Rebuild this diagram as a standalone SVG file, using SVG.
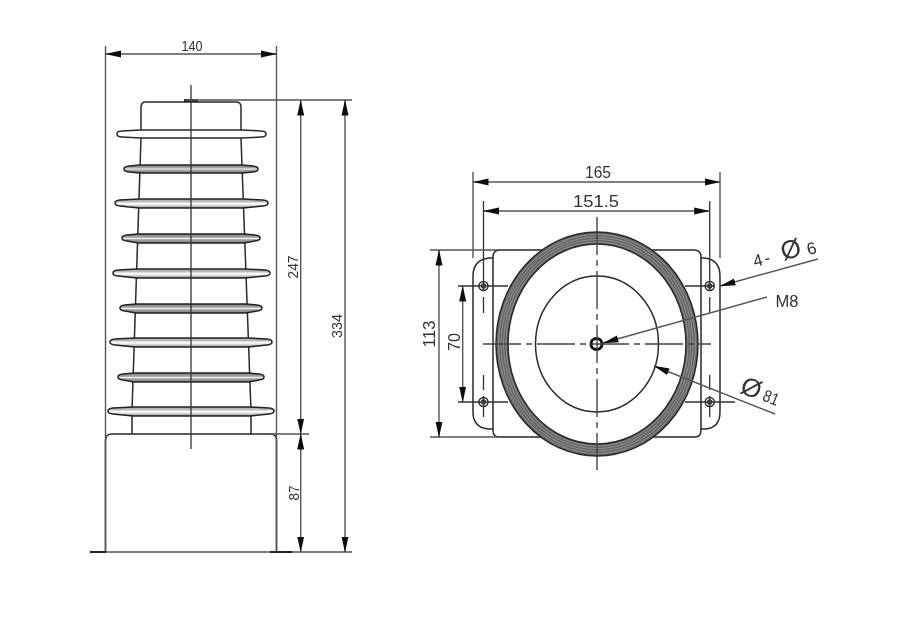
<svg xmlns="http://www.w3.org/2000/svg" width="922" height="630" viewBox="0 0 922 630">
<style>
.o{fill:none;stroke:#2a2a2a;stroke-width:1.5}
.w{fill:#fff;stroke:#2a2a2a;stroke-width:1.5}
.c{fill:none;stroke:#333;stroke-width:1.3}
.cd{fill:none;stroke:#444;stroke-width:1.4;stroke-dasharray:38 5 6 5}
.d{fill:none;stroke:#555;stroke-width:1.4}
.a{marker-start:url(#arr);marker-end:url(#arr)}
.e{marker-end:url(#arr)}
.g1{fill:url(#fa);stroke:#222;stroke-width:1.5}
.g2{fill:url(#fb);stroke:#222;stroke-width:1.5}
.r{fill:none;stroke:#999;stroke-width:.8}
text{font-family:"Liberation Sans",Arial,sans-serif;fill:#333;text-anchor:middle}
.s{font-size:14px}
.b{font-size:17px}
</style>
<defs>
<filter id="soft" filterUnits="userSpaceOnUse" x="0" y="0" width="922" height="630"><feGaussianBlur stdDeviation="0.45"/></filter>
<marker id="arr" markerUnits="userSpaceOnUse" markerWidth="16" markerHeight="8" viewBox="0 0 16 8" refX="15.5" refY="4" orient="auto-start-reverse">
<path d="M0 0.5L16 4L0 7.5z" fill="#111"/>
</marker>
<linearGradient id="fa" x1="0" y1="0" x2="0" y2="1"><stop offset="0" stop-color="#777"/><stop offset=".38" stop-color="#aaa"/><stop offset=".5" stop-color="#f0f0f0"/><stop offset=".62" stop-color="#aaa"/><stop offset="1" stop-color="#777"/></linearGradient>
<linearGradient id="fb" x1="0" y1="0" x2="0" y2="1"><stop offset="0" stop-color="#aaa"/><stop offset=".3" stop-color="#bbb"/><stop offset=".5" stop-color="#fff"/><stop offset=".7" stop-color="#ddd"/><stop offset="1" stop-color="#888"/></linearGradient>
</defs>
<rect width="922" height="630" fill="#fff"/>
<g filter="url(#soft)">
<g id="front-view">
<g id="base"><path class="o" d="M105.500 552V440Q105.500 434 112 434H270Q276.500 434 276.500 440V552"/></g>
<g id="trunk">
<path class="o" d="M141 130V107Q141 102 146 102H236Q241 102 241 107V130"/>
<path class="o" d="M141 138L132 411V434M241 138L251 411V434"/>
</g>
<g id="top-nub"><rect x="184" y="99" width="14" height="3" fill="#222"/></g>
<g id="sheds">
<path class="w" d="M117 134q0-3 5-3L141 130H241L261 131q5 0 5 3t-5 3L241 138H141L122 137q-5 0-5-3z"/>
<path class="g1" d="M124 169q0-2.500 5-3L140 165H242L253 166q5 .5 5 3t-5 3L242 173H140L129 172q-5-.5-5-3z"/>
<path class="g2" d="M115 203q0-2.500 5-3L139 199H243L263 200q5 .5 5 3t-5 3L243 208H139L120 206q-5-.5-5-3z"/>
<path class="g1" d="M122 238q0-2.500 5-3L138 234H244L255 235q5 .5 5 3t-5 3L244 243H138L127 241q-5-.5-5-3z"/>
<path class="g2" d="M113 273q0-2.500 5-3L137 269H245L265 270q5 .5 5 3t-5 3L245 278H137L118 276q-5-.5-5-3z"/>
<path class="g1" d="M120 308q0-2.500 5-3L136 304H246L257 305q5 .5 5 3t-5 3L246 313H136L125 311q-5-.5-5-3z"/>
<path class="g2" d="M110 342q0-2.500 5-3L135 338H248L267 339q5 .5 5 3t-5 3L248 347H135L115 345q-5-.5-5-3z"/>
<path class="g1" d="M118 377q0-2.500 5-3L134 373H249L259 374q5 .5 5 3t-5 3L249 382H134L123 380q-5-.5-5-3z"/>
<path class="g2" d="M108 411q0-2.500 5-3L133 407H250L269 408q5 .5 5 3t-5 3L250 416H133L113 414q-5-.5-5-3z"/>
</g>
<g id="axis"><path class="c" d="M191 85V449"/></g>
</g>

<g id="top-view">
<g id="plate">
<path class="o" d="M493 431Q493 437 500 437H695Q701 437 701 430V257Q701 250 694 250H500Q493 250 493 257Z"/>
<path class="o" d="M493 258H489Q473 260 473 276V412Q473 428 489 429H493"/>
<path class="o" d="M701 258H705Q720 260 720 276V412Q720 428 705 429H701"/>
</g>
<g id="ring">
<ellipse cx="597" cy="344" rx="95" ry="106" fill="#fff" stroke="#666" stroke-width="12"/>
<ellipse cx="597" cy="344" rx="101" ry="112" class="o"/>
<ellipse cx="597" cy="344" rx="98.500" ry="109.500" class="r"/>
<ellipse cx="597" cy="344" rx="96" ry="107" class="r"/>
<ellipse cx="597" cy="344" rx="93.500" ry="104.500" class="r"/>
<ellipse cx="597" cy="344" rx="91" ry="102" class="r"/>
<ellipse cx="597" cy="344" rx="89" ry="100" class="o"/>
</g>
<g id="bore"><ellipse cx="597" cy="344" rx="61.500" ry="68" class="o"/></g>
<g id="center-hole"><circle cx="596.500" cy="344" r="5.500" fill="#fff" stroke="#111" stroke-width="3"/></g>
<g id="holes">
<circle cx="483.500" cy="286" r="4.500" class="o"/><circle cx="709.700" cy="286" r="4.500" class="o"/>
<circle cx="483.500" cy="402" r="4.500" class="o"/><circle cx="709.700" cy="402" r="4.500" class="o"/>
<circle cx="483.500" cy="286" r="2" class="c"/><circle cx="709.700" cy="286" r="2" class="c"/>
<circle cx="483.500" cy="402" r="2" class="c"/><circle cx="709.700" cy="402" r="2" class="c"/>
</g>
<g id="axes">
<path class="cd" d="M597 217V470M483 344H711"/>
<path class="c" d="M458 286H508M458 402H508M685 286H715M685 402H735"/>
<path class="c" d="M483.500 201V291M483.500 297V313M483.500 375V390M483.500 396V417M709.700 201V291M709.700 297V313M709.700 375V390M709.700 396V417"/>
</g>
</g>

<g id="connectors">
<path class="d" d="M105.500 46V552M276.500 46V552"/>
<path class="d" d="M90 552H352M185 100H352M270 434H309"/>
<path d="M90 552H106M270 552H292" stroke="#222" stroke-width="2" fill="none"/>
<path class="d a" d="M105.500 54H276.500"/>
<path class="d a" d="M300.700 100V434"/>
<path class="d a" d="M300.700 434V552"/>
<path class="d a" d="M345 100V552"/>
<path class="d" d="M473 172V258M720 172V258"/>
<path class="d a" d="M473 182H720"/>
<path class="d a" d="M483.500 211H709.700"/>
<path class="d" d="M430 250H500M430 437H500"/>
<path class="d a" d="M439 250V437"/>
<path class="d a" d="M462.700 286V402"/>
<path class="d e" d="M818 259L720 286"/>
<path class="d e" d="M767 297L603 343"/>
<path class="d e" d="M775 414L654 366"/>
</g>

<g id="labels">
<text class="s" x="192" y="51" textLength="21" lengthAdjust="spacingAndGlyphs">140</text>
<text class="s" transform="translate(298,267) rotate(-90)" textLength="23" lengthAdjust="spacingAndGlyphs">247</text>
<text class="s" transform="translate(299,493) rotate(-90)" textLength="15" lengthAdjust="spacingAndGlyphs">87</text>
<text class="s" transform="translate(342,326) rotate(-90)" textLength="24" lengthAdjust="spacingAndGlyphs">334</text>
<text class="b" x="598" y="178" textLength="26" lengthAdjust="spacingAndGlyphs">165</text>
<text class="b" x="596" y="207" textLength="46" lengthAdjust="spacingAndGlyphs">151.5</text>
<text class="b" transform="translate(435,334) rotate(-90)" textLength="27" lengthAdjust="spacingAndGlyphs">113</text>
<text class="b" transform="translate(460,342) rotate(-90)" textLength="18" lengthAdjust="spacingAndGlyphs">70</text>
<text class="b" transform="translate(763,265) rotate(-15)" textLength="17" lengthAdjust="spacing">4-</text>
<text style="font-size:26px" transform="translate(793,258) rotate(-15)">Ø</text>
<text class="b" transform="translate(813,254) rotate(-15)">6</text>
<text class="b" x="787" y="307" textLength="23" lengthAdjust="spacingAndGlyphs">M8</text>
<text style="font-size:26px" transform="translate(748,396) rotate(22)">Ø</text>
<text class="b" transform="translate(769,403) rotate(22)" textLength="16" lengthAdjust="spacingAndGlyphs">81</text>
</g>
</g>
</svg>
